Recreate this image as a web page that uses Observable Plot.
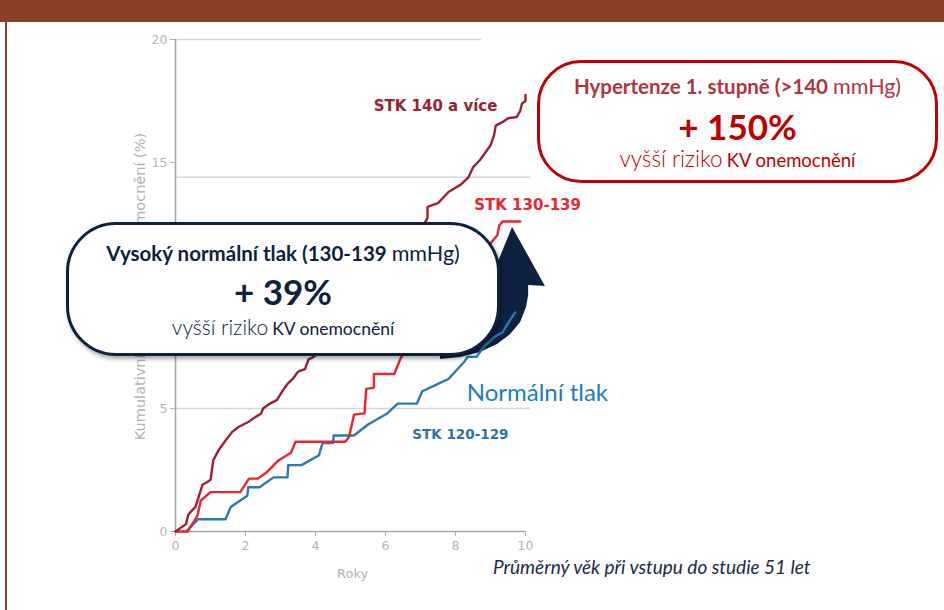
<!DOCTYPE html>
<html><head><meta charset="utf-8">
<script src="https://cdn.jsdelivr.net/npm/d3@7"></script>
<script src="https://cdn.jsdelivr.net/npm/@observablehq/plot@0.6"></script>
<style>
body{margin:0;background:#fff;font-family:Lato,"Open Sans",sans-serif;}
#wrap{position:relative;width:944px;height:610px;overflow:hidden;background:#fff;}
#hdr{position:absolute;left:0;top:0;width:944px;height:22px;background:#8a3f28;}
#lb{position:absolute;left:5px;top:22px;width:2px;height:588px;background:#8a3f28;}
#chart{position:absolute;left:0;top:0;}
.box{position:absolute;background:#fff;box-sizing:border-box;font-family:Lato,sans-serif;}
.ln{position:absolute;left:0;right:0;text-align:center;white-space:nowrap;}
#caption{position:absolute;left:493px;top:555px;font-family:Lato,sans-serif;font-style:italic;font-size:19px;color:#1b2a48;white-space:nowrap;}
</style></head>
<body>
<div id="wrap">
  <div id="chart"></div>
  <div id="hdr"></div>
  <div id="lb"></div>
  <div class="box" id="boxNavy" style="left:66px;top:222px;width:434px;height:134px;border:3px solid #0e2240;border-radius:50px;box-shadow:2px 3px 4px rgba(0,0,0,0.35);color:#0e2240;">
    <div class="ln" style="top:16px;font-size:20.5px;font-weight:700;line-height:24px;">Vysoký normální tlak (130-139 <span style="font-weight:400;font-size:21.5px">mmHg)</span></div>
    <div class="ln" style="top:45px;font-size:35px;font-weight:700;line-height:42px;">+ 39%</div>
    <div class="ln" style="top:89px;line-height:26px;"><span style="font-size:21px;font-weight:300">vyšší riziko</span> <span style="font-size:17.5px">KV onemocnění</span></div>
  </div>
  <div class="box" id="boxRed" style="left:537px;top:60px;width:401px;height:123px;border:3px solid #c00000;border-radius:44px;color:#c00000;">
    <div class="ln" style="top:11px;font-size:20.5px;font-weight:700;line-height:24px;color:#b3343e;">Hypertenze 1. stupně (&gt;140 <span style="font-weight:400;font-size:21.5px">mmHg)</span></div>
    <div class="ln" style="top:42px;font-size:35px;font-weight:700;line-height:42px;">+ 150%</div>
    <div class="ln" style="top:83px;line-height:26px;"><span style="font-size:22.5px;font-weight:300">vyšší riziko</span> <span style="font-size:18.5px">KV onemocnění</span></div>
  </div>
  <div id="caption">Průměrný věk při vstupu do studie 51 let</div>
</div>
<script>
// ---- data ----
const xTicks = [0, 2, 4, 6, 8, 10];
const yTicks = [0, 5, 10, 15, 20];
const gridY = [5, 14.4];
const gridTop = [20];

const stk140Years = [0, 0.3, 0.37, 0.57, 0.66, 0.77, 0.9, 1.0, 1.08, 1.23, 1.43, 1.62, 1.8, 2.08, 2.28, 2.45, 2.5, 2.7, 2.9, 3.05, 3.2, 3.35, 3.5, 3.7, 3.8, 3.95, 4.4, 5.0, 5.6, 6.2, 6.8, 7.2, 7.2, 7.5, 7.8, 8.15, 8.37, 8.5, 8.7, 8.9, 9.0, 9.1, 9.15, 9.35, 9.5, 9.75, 9.85, 9.9, 10.0, 10.0];
const stk140Vals  = [0, 0.3, 0.7, 1.0, 1.4, 1.9, 2.0, 2.1, 2.9, 3.3, 3.7, 4.05, 4.25, 4.45, 4.65, 4.8, 5.0, 5.2, 5.35, 5.7, 6.0, 6.2, 6.5, 6.6, 7.0, 7.1, 7.6, 8.5, 9.6, 10.5, 11.7, 12.75, 13.2, 13.35, 13.8, 14.1, 14.4, 14.8, 15.1, 15.5, 15.7, 16.1, 16.5, 16.65, 16.8, 16.85, 17.1, 17.4, 17.5, 17.75];

const stk130Years = [0, 0.35, 0.63, 0.72, 1.0, 1.85, 2.1, 2.35, 2.6, 2.95, 3.3, 3.43, 4.85, 4.96, 5.1, 5.4, 5.45, 5.67, 5.67, 6.25, 6.45, 7.0, 7.6, 8.2, 8.7, 9.05, 9.2, 9.25, 9.35, 9.85];
const stk130Vals  = [0, 0, 0.65, 1.25, 1.6, 1.6, 2.15, 2.15, 2.4, 2.9, 3.2, 3.65, 3.65, 3.85, 4.75, 4.8, 5.8, 5.85, 6.4, 6.4, 7.1, 8.0, 9.0, 10.0, 11.0, 11.8, 12.05, 12.45, 12.6, 12.6];

const stk120Years = [0.3, 0.65, 1.43, 1.58, 2.05, 2.08, 2.4, 2.8, 3.2, 3.22, 3.6, 4.1, 4.2, 4.5, 4.52, 5.1, 5.5, 6.05, 6.35, 6.9, 7.05, 7.5, 7.8, 8.25, 8.35, 8.6, 8.8, 9.1, 9.35, 9.45, 9.7];
const stk120Vals  = [0, 0.5, 0.5, 1.0, 1.45, 1.8, 1.8, 2.2, 2.2, 2.7, 2.7, 3.1, 3.6, 3.6, 3.9, 3.9, 4.35, 4.8, 5.2, 5.2, 5.7, 6.0, 6.2, 6.9, 7.1, 7.1, 7.5, 7.9, 8.1, 8.35, 8.9];

// arrow outline (data coordinates)
const arrowX = [9.63, 10.57, 10.09, 10.09, 10.03, 9.86, 9.57, 9.2, 8.71, 8.14, 7.57, 7.57, 8.14, 8.66, 9.0, 9.17, 9.2, 8.94];
const arrowY = [12.36, 9.96, 10.0, 9.59, 9.11, 8.5, 8.0, 7.6, 7.28, 7.07, 6.99, 7.36, 7.64, 8.09, 8.78, 9.47, 10.0, 9.96];

const colors = {s140: "#9c2233", s130: "#e8262f", s120: "#2b7ab6"};

const toPts = (xs, ys) => xs.map((x, i) => ({x, y: ys[i]}));
const s140 = toPts(stk140Years, stk140Vals);
const s130 = toPts(stk130Years, stk130Vals);
const s120 = toPts(stk120Years, stk120Vals);

const chart = Plot.plot({
  width: 944, height: 610,
  marginLeft: 175, marginRight: 419, marginTop: 39, marginBottom: 79,
  x: {domain: [0, 10], ticks: xTicks, tickSize: 5, tickPadding: 5, label: null},
  y: {domain: [0, 20], ticks: yTicks, tickSize: 5, tickPadding: 3, label: null},
  style: {fontFamily: "DejaVu Sans, sans-serif", fontSize: "12.5px", color: "#b5b5b5", background: "transparent", overflow: "visible"},
  marks: [
    Plot.ruleY(gridY, {x1: 0, x2: 10.15, stroke: "#d6d6d6", strokeWidth: 1.3}),
    Plot.ruleY(gridTop, {x1: 0, x2: 8.75, stroke: "#d6d6d6", strokeWidth: 1.3}),
    Plot.ruleX([0], {stroke: "#a8a8a8", strokeWidth: 1.6}),
    Plot.ruleY([0], {stroke: "#a8a8a8", strokeWidth: 1.6}),
    Plot.line(s120, {x: "x", y: "y", stroke: colors.s120, strokeWidth: 2.4}),
    Plot.line(s130, {x: "x", y: "y", stroke: colors.s130, strokeWidth: 2.4}),
    Plot.line(s140, {x: "x", y: "y", stroke: colors.s140, strokeWidth: 2.4}),
    Plot.text(["STK 140 a více"], {x: 7.43, y: 17.3, fill: colors.s140, fontSize: 15, fontWeight: 700, fontFamily: "DejaVu Sans"}),
    Plot.text(["STK 130-139"], {x: 10.06, y: 13.25, fill: colors.s130, fontSize: 15, fontWeight: 700, fontFamily: "DejaVu Sans"}),
    Plot.text(["STK 120-129"], {x: 8.14, y: 3.95, fill: "#2f73a6", fontSize: 13.5, fontWeight: 700, fontFamily: "DejaVu Sans"}),
    Plot.text(["Normální tlak"], {x: 10.34, y: 5.6, fill: "#1c7cc4", fontSize: 24, fontFamily: "Lato"}),
    Plot.text(["Kumulativní incidence KV onemocnění (%)"], {x: -1.0, y: 9.96, rotate: -90, fill: "#b3b3b3", fontSize: 14.5, fontFamily: "DejaVu Sans"}),
    Plot.text(["Roky"], {x: 5.06, y: -1.72, fill: "#b3b3b3", fontSize: 13})
  ]
});
document.getElementById("chart").appendChild(chart);

// curved arrow, positioned through the chart's scales, placed behind the lines
const sx = chart.scale("x"), sy = chart.scale("y");
const apts = arrowX.map((x, i) => [sx.apply(x), sy.apply(arrowY[i])]);
d3.select(chart).insert("path", 'g[aria-label="line"]')
  .attr("d", d3.line().curve(d3.curveLinearClosed)(apts))
  .attr("fill", "#0e2240");
</script>
</body></html>
